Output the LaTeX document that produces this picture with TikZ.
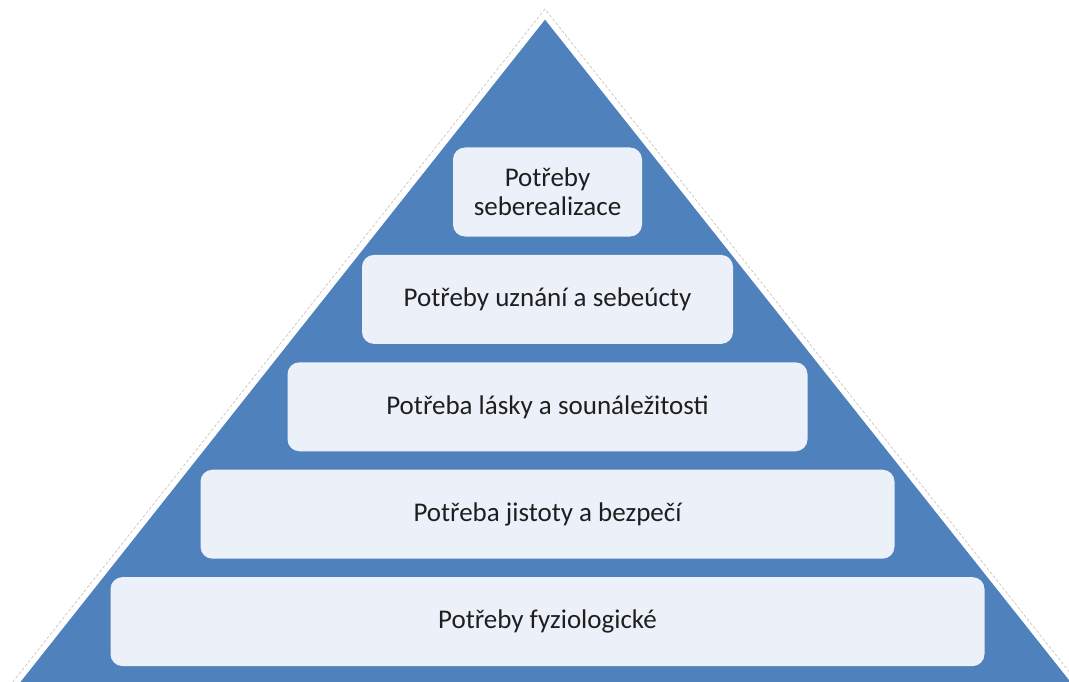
\documentclass[tikz,border=0pt]{standalone}
\usepackage{fontspec}
\setmainfont{Carlito}
\usetikzlibrary{positioning}
\definecolor{pyramidBlue}{HTML}{4F81BD}
\definecolor{levelFill}{HTML}{ECF1F9}
\definecolor{outlineGrey}{HTML}{BFBFBF}

\begin{document}
\begin{tikzpicture}[x=1pt,y=-1pt,level/.style={fill=levelFill,draw=none,rounded corners=12pt,align=center,minimum height=89pt,inner sep=4pt,text=black!88},font=\fontsize{27}{29}\selectfont]
\useasboundingbox (0,0) rectangle (1069,682);
\begin{scope}
\clip (0,0) rectangle (1069,682);
\draw[outlineGrey,densely dashed,line width=0.6pt] (545,9)--(8,688)--(1082,688)--cycle;
\fill[pyramidBlue,draw=white,line width=3pt] (545,17)--(16,685)--(1075,685)--cycle;
\end{scope}
\node[level,minimum width=189pt] (self) at (547.5,192) {Potřeby\\seberealizace};
\node[level,minimum width=371pt,below=18pt of self] (esteem) {Potřeby uznání a sebeúcty};
\node[level,minimum width=520pt,below=18pt of esteem] (love) {Potřeba lásky a sounáležitosti};
\node[level,minimum width=694pt,below=18pt of love] (safety) {Potřeba jistoty a bezpečí};
\node[level,minimum width=874pt,below=18pt of safety] (physio) {Potřeby fyziologické};
\end{tikzpicture}
\end{document}
